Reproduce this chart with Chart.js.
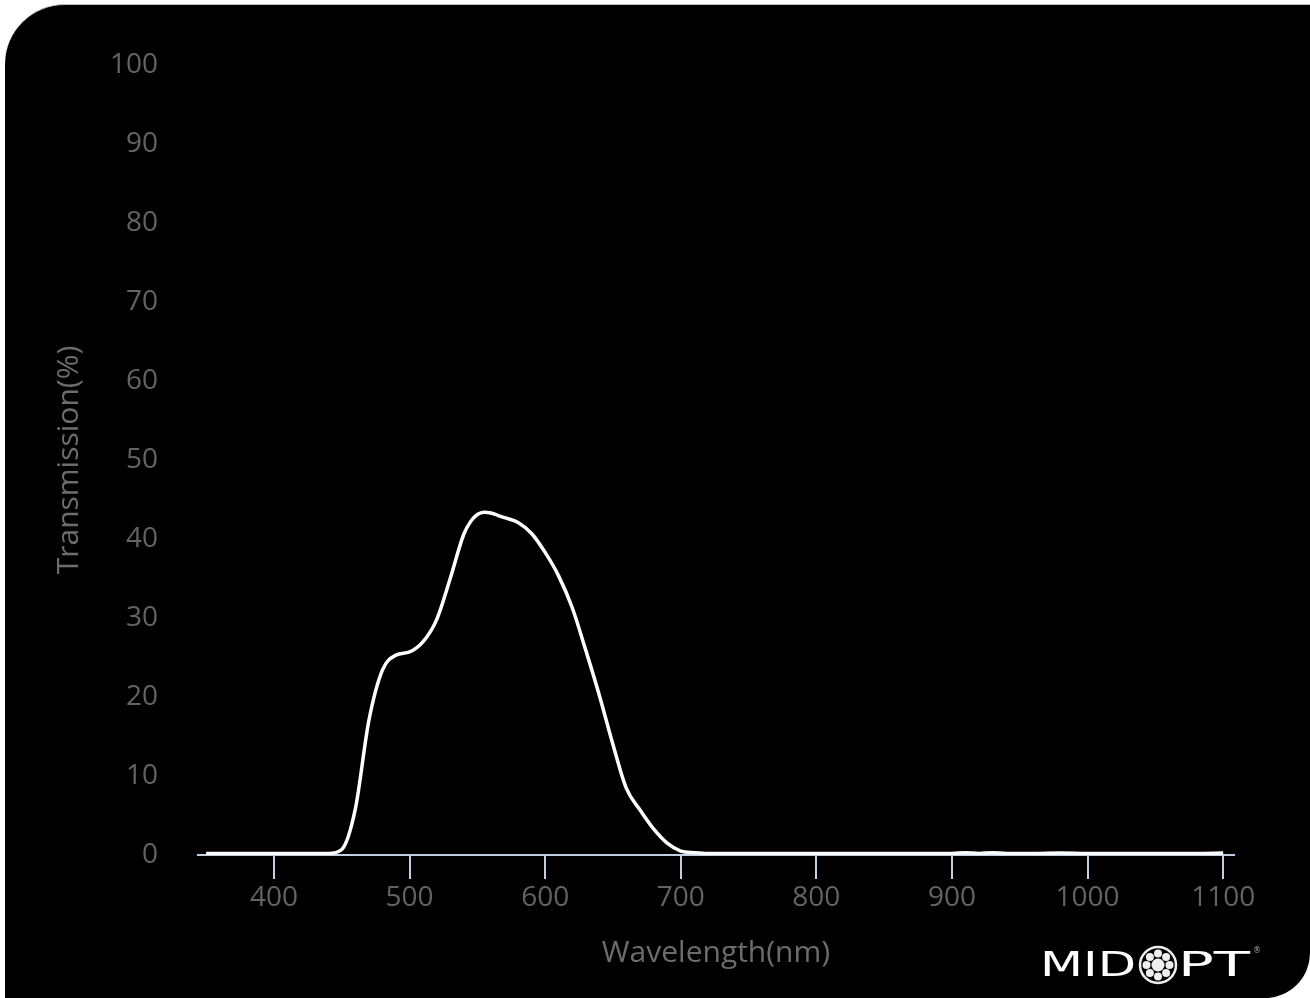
<!DOCTYPE html>
<html>
<head>
<meta charset="utf-8">
<script src="https://cdn.jsdelivr.net/npm/chart.js@4.4.0/dist/chart.umd.min.js"></script>
<style>
  html, body { margin: 0; padding: 0; background: #fff; }
  body { width: 1310px; height: 998px; position: relative; overflow: hidden; }
  #panel {
    position: absolute; left: 5px; top: 4px; right: 0; bottom: 0;
    background: #000;
    border-radius: 60px 0 45px 0;
    border-top: 1px solid #bbb;
  }
  #wrap { position: absolute; left: 0; top: 0; width: 1310px; height: 998px; }
  #logo { position: absolute; left: 1030px; top: 936px; }
</style>
</head>
<body>
<div id="panel"></div>
<div id="wrap"><canvas id="myChart"></canvas></div>
<svg id="logo" width="240" height="56" viewBox="0 0 240 56">
  <text x="10" y="40" fill="#fff" font-family="DejaVu Sans" font-size="34" textLength="96" lengthAdjust="spacingAndGlyphs">MID</text>
  <g transform="translate(128,29)" fill="#eee">
    <circle r="18" fill="none" stroke="#eee" stroke-width="2.5"/>
    <circle r="6.5"/>
    <circle cx="0" cy="-11.5" r="4"/>
    <circle cx="8.1" cy="-8.1" r="4"/>
    <circle cx="11.5" cy="0" r="4"/>
    <circle cx="8.1" cy="8.1" r="4"/>
    <circle cx="0" cy="11.5" r="4"/>
    <circle cx="-8.1" cy="8.1" r="4"/>
    <circle cx="-11.5" cy="0" r="4"/>
    <circle cx="-8.1" cy="-8.1" r="4"/>
  </g>
  <text x="148" y="40" fill="#fff" font-family="DejaVu Sans" font-size="34" textLength="72" lengthAdjust="spacingAndGlyphs">PT</text>
  <text x="223" y="17" fill="#aaa" font-family="DejaVu Sans" font-size="8">®</text>
</svg>
<script>
// wavelength (nm) and transmission (%)
var wavelengths = [350, 360, 370, 380, 390, 400, 410, 420, 430, 440,
  450, 460, 470, 480, 490, 500, 510, 520, 530, 540,
  545, 550, 555, 560, 565, 570, 580, 590, 600, 610, 620, 630, 640,
  650, 660, 670, 680, 690, 700, 710, 720, 740, 760,
  780, 800, 820, 840, 860, 880, 900, 910, 920, 930,
  940, 960, 980, 1000, 1020, 1040, 1060, 1080, 1100];
var transmission = [0.2, 0.2, 0.2, 0.2, 0.2, 0.2, 0.2, 0.2, 0.2, 0.2,
  0.7, 5.8, 17, 23.4, 25.3, 25.7, 27, 29.8, 35, 40.6,
  42.2, 43.1, 43.4, 43.3, 43.0, 42.7, 42.1, 40.7, 38.3, 35.3, 31.3, 25.9, 20.2,
  14, 8.4, 5.7, 3.3, 1.5, 0.5, 0.3, 0.2, 0.2, 0.2,
  0.2, 0.2, 0.2, 0.2, 0.2, 0.2, 0.2, 0.3, 0.2, 0.3,
  0.2, 0.2, 0.25, 0.2, 0.2, 0.2, 0.2, 0.2, 0.25];
var xTicks = [400, 500, 600, 700, 800, 900, 1000, 1100];
var yTicks = [0, 10, 20, 30, 40, 50, 60, 70, 80, 90, 100];

var axisColor = '#c0d0e0';
var labelColor = '#636363';

var points = wavelengths.map(function (w, i) { return { x: w, y: transmission[i] }; });

var ctx = document.getElementById('myChart');
var chart = new Chart(ctx, {
  type: 'line',
  data: {
    datasets: [{
      label: 'Transmission',
      data: points,
      borderColor: '#ffffff',
      borderWidth: 3.5,
      pointRadius: 0,
      cubicInterpolationMode: 'monotone',
      fill: false
    }]
  },
  options: {
    responsive: true,
    maintainAspectRatio: false,
    animation: false,
    layout: { padding: { top: 65, right: 76, left: 0, bottom: 0 } },
    plugins: { legend: { display: false }, tooltip: { enabled: false } },
    scales: {
      x: {
        type: 'linear',
        min: 344,
        max: 1108,
        afterBuildTicks: function (scale) {
          scale.ticks = xTicks.map(function (v) { return { value: v }; });
        },
        afterFit: function (scale) { scale.height = 143; },
        ticks: {
          color: labelColor,
          font: { family: 'Open Sans', size: 28 },
          padding: 2,
          maxRotation: 0,
          autoSkip: false,
          callback: function (v) { return String(v); }
        },
        grid: {
          drawOnChartArea: false,
          drawTicks: true,
          tickLength: 24,
          color: axisColor,
          lineWidth: 2
        },
        border: { display: true, color: axisColor, width: 2 },
        title: {
          display: true,
          text: 'Wavelength(nm)',
          color: '#6c6c6c',
          font: { family: 'Open Sans', size: 30 },
          padding: { top: 0, bottom: 27 }
        }
      },
      y: {
        min: 0,
        max: 100,
        afterBuildTicks: function (scale) {
          scale.ticks = yTicks.map(function (v) { return { value: v }; });
        },
        afterFit: function (scale) { scale.width = 198; },
        ticks: {
          color: labelColor,
          font: { family: 'Open Sans', size: 28 },
          padding: 40,
          callback: function (v) { return String(v); }
        },
        grid: { display: false, drawTicks: false },
        border: { display: false },
        title: {
          display: true,
          text: 'Transmission(%)',
          color: '#6c6c6c',
          font: { family: 'Open Sans', size: 30 },
          padding: { top: 51, bottom: 0 }
        }
      }
    }
  }
});
</script>
</body>
</html>
